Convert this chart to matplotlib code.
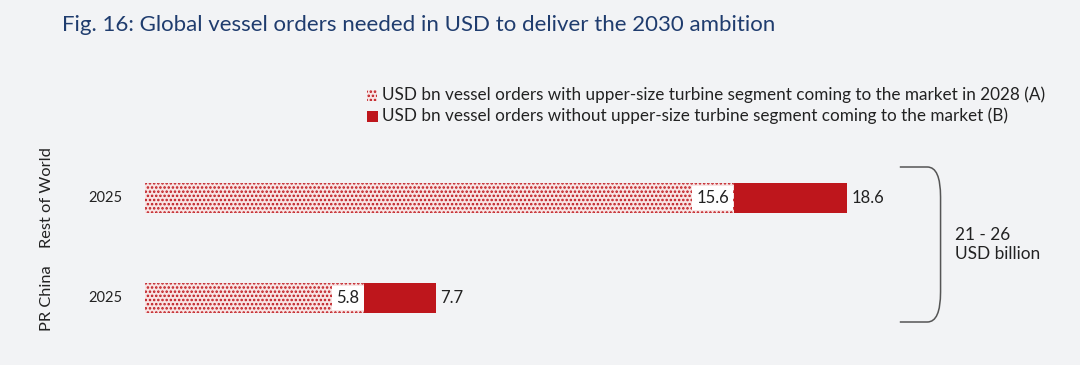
import matplotlib.pyplot as plt
import matplotlib.patches as mpatches
from matplotlib.path import Path

# data
regions = ["Rest of World", "PR China"]
years = ["2025", "2025"]
orders_a = [15.6, 5.8]   # with upper-size turbine segment (A)
orders_b = [18.6, 7.7]   # without upper-size turbine segment (B)
legend_labels = [
    "USD bn vessel orders with upper-size turbine segment coming to the market in 2028 (A)",
    "USD bn vessel orders without upper-size turbine segment coming to the market (B)",
]
range_text = "21 - 26\nUSD billion"

RED = "#be161c"
BG = "#f2f3f5"
NAVY = "#1f3c6e"
TXT = "#222222"
W, H = 1080, 365

plt.rcParams["font.family"] = ["Lato", "DejaVu Sans"]
plt.rcParams["hatch.linewidth"] = 1.2
plt.rcParams["hatch.color"] = RED

fig = plt.figure(figsize=(W / 100, H / 100), dpi=100, facecolor=BG)


def fx(px):
    return px / W


def fy(py):
    return 1 - py / H


# axes: x 0 at px 145, ~37.74 px per unit
ax = fig.add_axes([fx(145), fy(340), 1 - fx(145), fy(150) - fy(340)])
ax.set_facecolor(BG)
ax.set_xlim(0, (W - 145) / 37.74)
ax.set_ylim(1.42, -0.48)
ax.axis("off")

ypos = list(range(len(regions)))
ax.barh(ypos, [b - a for a, b in zip(orders_a, orders_b)], left=orders_a,
        height=0.3, color=RED, linewidth=0)
ax.barh(ypos, orders_a, height=0.3, facecolor="#f8e4e4", edgecolor=RED,
        hatch="....", linewidth=0)

for y, a, b in zip(ypos, orders_a, orders_b):
    ax.text(a - 0.12, y, f"{a}", ha="right", va="center", fontsize=12, color=TXT,
            bbox=dict(boxstyle="square,pad=0.25", fc="white", ec="none"))
    ax.text(b + 0.12, y, f"{b}", ha="left", va="center", fontsize=12, color=TXT)

# year labels and rotated region labels
for y, yr, reg in zip(ypos, years, regions):
    ax.text(-0.6, y, yr, ha="right", va="center", fontsize=10.5, color=TXT)
    ax.text(-2.6, y, reg, ha="center", va="center", rotation=90, fontsize=11.8, color=TXT)

# brace
x0, x1 = 20.0, 21.08
ytop, ybot = -0.31, 1.24
r = 0.3
verts = [(x0, ytop), (x1 - 0.35, ytop), (x1, ytop), (x1, ytop + r),
         (x1, ybot - r), (x1, ybot), (x1 - 0.35, ybot), (x0, ybot)]
codes = [Path.MOVETO, Path.LINETO, Path.CURVE3, Path.CURVE3,
         Path.LINETO, Path.CURVE3, Path.CURVE3, Path.LINETO]
ax.add_patch(mpatches.PathPatch(Path(verts, codes), fill=False, ec="#555555", lw=1.1))
ax.text(21.47, (ytop + ybot) / 2, range_text, ha="left", va="center",
        fontsize=12.4, color=TXT, linespacing=1.25)

# title
fig.text(fx(62), fy(25), "Fig. 16: Global vessel orders needed in USD to deliver the 2030 ambition",
         ha="left", va="center", fontsize=16, color=NAVY)

# legend
fig.add_artist(mpatches.Rectangle((fx(367), fy(101)), fx(10), fy(90) - fy(101),
                                  transform=fig.transFigure, facecolor="#f8e4e4",
                                  edgecolor=RED, hatch="....", linewidth=0))
fig.add_artist(mpatches.Rectangle((fx(367), fy(122)), fx(11), fy(111) - fy(122),
                                  transform=fig.transFigure, facecolor=RED, linewidth=0))
fig.text(fx(382), fy(95), legend_labels[0], ha="left", va="center", fontsize=12.3, color=TXT)
fig.text(fx(382), fy(116), legend_labels[1], ha="left", va="center", fontsize=12.3, color=TXT)

fig.savefig("out.png", dpi=100, facecolor=BG)
